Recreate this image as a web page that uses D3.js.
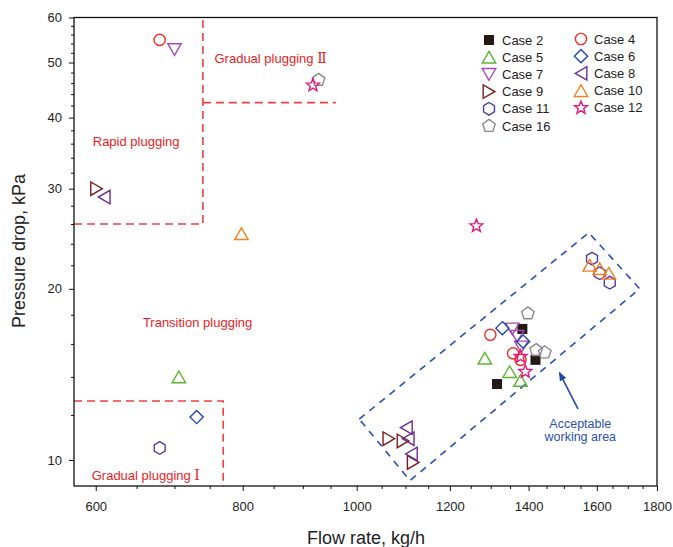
<!DOCTYPE html>
<html>
<head>
<meta charset="utf-8">
<script src="https://cdn.jsdelivr.net/npm/d3@7"></script>
<style>
  body { margin: 0; background: #fff; }
  svg text { font-family: Arial, "Liberation Sans", sans-serif; }
</style>
</head>
<body>
<svg id="chart" width="673" height="547"></svg>
<script>
// ---- data ----
var xTicks = [600, 800, 1000, 1200, 1400, 1600, 1800];
var xMinor = [650, 700, 750, 850, 900, 950, 1050, 1100, 1150, 1250, 1300, 1350, 1450, 1500, 1550, 1650, 1700, 1750];
var yTicks = [10, 20, 30, 40, 50, 60];
var yMinor = [12, 14, 16, 18, 22, 24, 26, 28, 32, 34, 36, 38, 42, 44, 46, 48, 52, 54, 56, 58];

var case2 = [[1383, 17.0], [1419, 15.0], [1316, 13.6]];
var case4 = [[680, 54.8], [1299, 16.6], [1358, 15.4], [1378, 15.0]];
var case5 = [[706, 14.0], [1285, 15.1], [1349, 14.3], [1378, 13.8]];
var case6 = [[731, 11.9], [1330, 17.05], [1385, 16.15]];
var case7 = [[700, 52.7], [1356, 17.0], [1369, 16.5], [1380, 15.8]];
var case8 = [[610, 29.0], [1102, 11.4], [1106, 10.9], [1113, 10.25]];
var case9 = [[601, 30.0], [1065, 10.9], [1095, 10.8], [1117, 9.9]];
var case10 = [[798, 25.0], [1578, 22.0], [1609, 21.7], [1638, 21.3]];
var case11 = [[680, 10.5], [1585, 22.6], [1609, 21.3], [1641, 20.5]];
var case12 = [[918, 45.6], [1264, 25.8], [1378, 15.2], [1391, 14.3]];
var case16 = [[928, 46.6], [1398, 18.1], [1421, 15.6], [1445, 15.45]];

var rapidLine = [[575, 26], [740, 26], [740, 60]];
var gradual2Line = [[740, 42.5], [960, 42.5]];
var gradual1Line = [[575, 12.7], [770, 12.7], [770, 9]];
var workBox = [[1005, 11.8], [1575, 25.1], [1740, 20], [1110, 9.2]];
var workArrow = [[1542, 12.3], [1487, 14.25]];

var series = [
  {name: "Case 2", data: case2, shape: "square", color: "#231815", fill: true},
  {name: "Case 5", data: case5, shape: "triUp", color: "#5cb531"},
  {name: "Case 7", data: case7, shape: "triDown", color: "#a64bb3"},
  {name: "Case 9", data: case9, shape: "triRight", color: "#7b1e22"},
  {name: "Case 11", data: case11, shape: "hexagon", color: "#4f3aa6"},
  {name: "Case 16", data: case16, shape: "pentagon", color: "#8a8a8a"},
  {name: "Case 4", data: case4, shape: "circle", color: "#ee2d24"},
  {name: "Case 6", data: case6, shape: "diamond", color: "#2247a8"},
  {name: "Case 8", data: case8, shape: "triLeft", color: "#6d2b8a"},
  {name: "Case 10", data: case10, shape: "triUp", color: "#f3801f"},
  {name: "Case 12", data: case12, shape: "star", color: "#e5197c"}
];

var regionLabels = [
  {text: "Gradual plugging ", num: "\u2161", x: 757, y: 50.0},
  {text: "Rapid plugging", num: "", x: 596.5, y: 35.6},
  {text: "Transition plugging", num: "", x: 658, y: 17.1},
  {text: "Gradual plugging ", num: "\u2160", x: 595.3, y: 9.24}
];

// ---- layout ----
var svg = d3.select("#chart");
var plotL = 74, plotR = 657, plotT = 17.5, plotB = 486;

var xScale = d3.scaleLog().domain([575, 1800]).range([plotL, plotR]);
var yScale = d3.scaleLog().domain([9, 60]).range([plotB, plotT]);

var shapePath = function(shape) {
  var p = d3.path();
  var i, a, r;
  if (shape == "square") {
    p.rect(-5, -5, 10, 10);
  } else if (shape == "circle") {
    p.arc(0, 0, 5.6, 0, 2 * Math.PI);
  } else if (shape == "triUp" || shape == "triDown" || shape == "triLeft" || shape == "triRight") {
    var s = 13.5, h = s * 0.866;
    var pts = [[0, -h / 2], [s / 2, h / 2], [-s / 2, h / 2]];
    if (shape == "triDown") pts = pts.map(function(d) { return [d[0], -d[1]]; });
    if (shape == "triLeft") pts = pts.map(function(d) { return [d[1], d[0]]; });
    if (shape == "triRight") pts = pts.map(function(d) { return [-d[1], d[0]]; });
    p.moveTo(pts[0][0], pts[0][1]);
    p.lineTo(pts[1][0], pts[1][1]);
    p.lineTo(pts[2][0], pts[2][1]);
    p.closePath();
  } else if (shape == "diamond") {
    p.moveTo(0, -6.6); p.lineTo(6.6, 0); p.lineTo(0, 6.6); p.lineTo(-6.6, 0); p.closePath();
  } else if (shape == "hexagon" || shape == "pentagon") {
    var n = shape == "hexagon" ? 6 : 5;
    r = shape == "hexagon" ? 6.3 : 6.6;
    for (i = 0; i < n; i++) {
      a = -Math.PI / 2 + i * 2 * Math.PI / n;
      if (i == 0) p.moveTo(r * Math.cos(a), r * Math.sin(a));
      else p.lineTo(r * Math.cos(a), r * Math.sin(a));
    }
    p.closePath();
  } else if (shape == "star") {
    for (i = 0; i < 10; i++) {
      r = i % 2 == 0 ? 6.8 : 2.9;
      a = -Math.PI / 2 + i * Math.PI / 5;
      if (i == 0) p.moveTo(r * Math.cos(a), r * Math.sin(a));
      else p.lineTo(r * Math.cos(a), r * Math.sin(a));
    }
    p.closePath();
  }
  return p.toString();
};

// axes
var drawAxes = function() {
  var axes = svg.append("g");
  axes.append("g")
    .attr("transform", "translate(0," + plotB + ")")
    .call(d3.axisBottom(xScale).tickValues(xTicks).tickFormat(d3.format("d")).tickSize(5).tickPadding(11));
  axes.append("g")
    .attr("transform", "translate(0," + plotB + ")")
    .call(d3.axisBottom(xScale).tickValues(xMinor).tickFormat("").tickSize(3));
  axes.append("g")
    .attr("transform", "translate(" + plotL + ",0)")
    .call(d3.axisLeft(yScale).tickValues(yTicks).tickFormat(d3.format("d")).tickSize(5).tickPadding(7));
  axes.append("g")
    .attr("transform", "translate(" + plotL + ",0)")
    .call(d3.axisLeft(yScale).tickValues(yMinor).tickFormat("").tickSize(3));
  axes.selectAll(".domain").remove();
  axes.selectAll("g").attr("font-size", 13).attr("font-family", null);
  axes.selectAll("line").attr("stroke", "#111").attr("stroke-width", 1);
  axes.selectAll("text").attr("fill", "#222");

  svg.append("rect")
    .attr("x", plotL).attr("y", plotT)
    .attr("width", plotR - plotL).attr("height", plotB - plotT)
    .attr("fill", "none").attr("stroke", "#111").attr("stroke-width", 1.3);

  svg.append("text")
    .text("Flow rate, kg/h")
    .attr("x", (plotL + plotR) / 2 + 0.5)
    .attr("y", 544)
    .attr("text-anchor", "middle")
    .attr("font-size", "18px")
    .attr("fill", "#222");
  svg.append("text")
    .text("Pressure drop, kPa")
    .attr("transform", "translate(25,251) rotate(-90)")
    .attr("text-anchor", "middle")
    .attr("font-size", "18px")
    .attr("fill", "#222");
};

// regions
var drawRegions = function() {
  var line = d3.line()
    .x(function(d) { return xScale(d[0]); })
    .y(function(d) { return yScale(d[1]); });
  var g = svg.append("g");
  [rapidLine, gradual2Line, gradual1Line].forEach(function(seg) {
    g.append("path")
      .datum(seg)
      .attr("d", line)
      .attr("fill", "none")
      .attr("stroke", "#ef4040")
      .attr("stroke-width", 1.6)
      .attr("stroke-dasharray", "8,5");
  });
  var labels = g.selectAll("text.region")
    .data(regionLabels)
    .enter()
    .append("text")
    .attr("class", "region")
    .attr("x", function(d) { return xScale(d.x); })
    .attr("y", function(d) { return yScale(d.y); })
    .attr("font-size", "13px")
    .attr("fill", "#ed1c24");
  labels.append("tspan").text(function(d) { return d.text; });
  labels.append("tspan")
    .text(function(d) { return d.num; })
    .style("font-family", "'DejaVu Serif', 'Liberation Serif', serif")
    .attr("font-size", "14px");

  g.append("path")
    .datum(workBox)
    .attr("d", d3.line().x(function(d) { return xScale(d[0]); }).y(function(d) { return yScale(d[1]); }).curve(d3.curveLinearClosed))
    .attr("fill", "none")
    .attr("stroke", "#2a4fb8")
    .attr("stroke-width", 1.6)
    .attr("stroke-dasharray", "7,6");

  svg.append("defs").append("marker")
    .attr("id", "head")
    .attr("viewBox", "0 0 10 10")
    .attr("refX", 9).attr("refY", 5)
    .attr("markerWidth", 9).attr("markerHeight", 9)
    .attr("markerUnits", "userSpaceOnUse")
    .attr("orient", "auto")
    .append("path")
    .attr("d", "M0,1 L10,5 L0,9 Z")
    .attr("fill", "#1f4aa8");
  g.append("path")
    .datum(workArrow)
    .attr("d", line)
    .attr("stroke", "#1f4aa8")
    .attr("stroke-width", 1.6)
    .attr("marker-end", "url(#head)");

  var tx = xScale(1549);
  g.append("text").text("Acceptable")
    .attr("x", tx).attr("y", yScale(11.4))
    .attr("text-anchor", "middle").attr("font-size", "12.5px").attr("fill", "#2a4fb8");
  g.append("text").text("working area")
    .attr("x", tx).attr("y", yScale(10.78))
    .attr("text-anchor", "middle").attr("font-size", "12.5px").attr("fill", "#2a4fb8");
};

// points
var drawPoints = function() {
  series.forEach(function(s) {
    svg.append("g")
      .selectAll("path")
      .data(s.data)
      .enter()
      .append("path")
      .attr("d", shapePath(s.shape))
      .attr("transform", function(d) { return "translate(" + xScale(d[0]) + "," + yScale(d[1]) + ")"; })
      .attr("fill", s.fill ? s.color : "none")
      .attr("stroke", s.color)
      .attr("stroke-width", s.fill ? 0 : 1.4);
  });
};

// legend
var drawLegend = function() {
  var lg = svg.append("g");
  series.forEach(function(s, i) {
    var col = i < 6 ? 0 : 1;
    var row = i < 6 ? i : i - 6;
    var sx = col == 0 ? 489 : 581;
    var sy = (col == 0 ? 40 : 39) + row * 17.2;
    lg.append("path")
      .attr("d", shapePath(s.shape))
      .attr("transform", "translate(" + sx + "," + sy + ")")
      .attr("fill", s.fill ? s.color : "none")
      .attr("stroke", s.color)
      .attr("stroke-width", s.fill ? 0 : 1.4);
    lg.append("text")
      .text(s.name)
      .attr("x", sx + 13)
      .attr("y", sy + 4.6)
      .attr("font-size", "13px")
      .attr("fill", "#222");
  });
};

drawRegions();
drawPoints();
drawAxes();
drawLegend();
</script>
</body>
</html>
